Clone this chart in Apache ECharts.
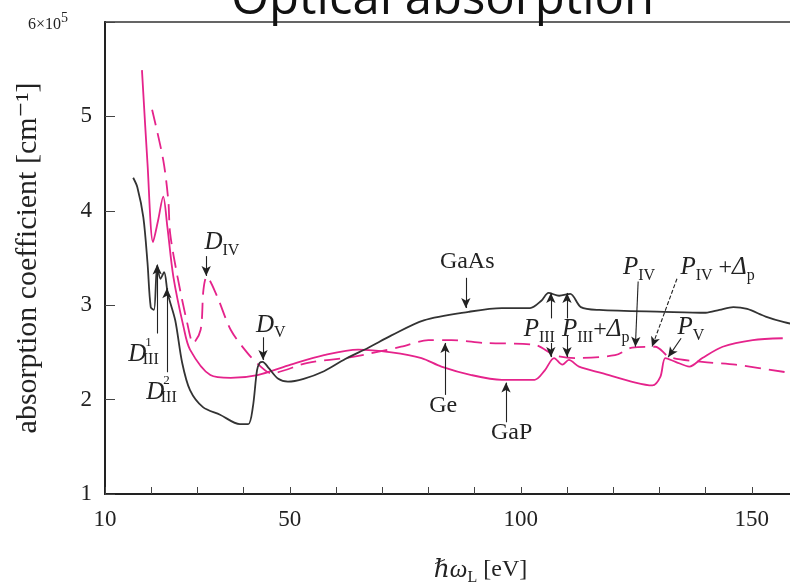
<!DOCTYPE html>
<html><head><meta charset="utf-8">
<script src="https://cdn.jsdelivr.net/npm/echarts@6/dist/echarts.min.js"></script>
<style>html,body{margin:0;padding:0;background:#fff}#c{width:790px;height:583px}</style>
</head><body><div id="c"></div>
<script>
// ---- data (photon energy in eV, absorption in units of 10^5 cm^-1) ----
var gaasE = [16.1,17,18.3,19.2,19.9,20.6,21.3,22,22.8,23.6,25.2,26.7,28.4,31.2,34.9,39.2,41,42,42.9,43.5,44.1,45.5,47.5,49.6,53,57.4,62,67,72,79,88.7,95.9,102,104.5,106,108.3,110.7,113,117,131,140,143,146,149,153,157,160];
var gaasV = [4.35,4.25,3.93,3.45,2.98,2.95,3.42,3.28,3.35,3.12,2.84,2.39,2.10,1.92,1.84,1.74,1.74,1.92,2.31,2.39,2.40,2.33,2.22,2.19,2.22,2.30,2.43,2.55,2.68,2.84,2.93,2.97,2.97,3.05,3.13,3.10,3.12,2.98,2.95,2.93,2.92,2.95,2.98,2.96,2.88,2.82,2.79];
var geE = [20.2,22.6,23.7,24.1,25.7,27.8,29.1,30.7,31.3,32,34.3,37.2,40.9,43.7,45.9,53.9,63.3,74.1,80,85,92.2,103,107.4,111.7,120.4,124.1,129.1,132.2,139.3,146.5,157.4];
var geV = [5.07,4.54,4.11,3.76,3.30,2.81,2.60,2.74,3.16,3.30,3.09,2.74,2.49,2.35,2.28,2.39,2.45,2.56,2.63,2.63,2.60,2.58,2.47,2.44,2.47,2.55,2.56,2.45,2.40,2.37,2.29];
var gapE = [18.0,19.2,20.4,21.5,22.6,23.5,24.8,27,28.4,32.8,37.2,43,50.2,57.4,64.8,72,78.5,82.8,89.3,95.9,103,105.2,107.2,109,110.4,112.6,117.6,124.8,128.5,130.2,131.3,133.5,136.5,139.3,143.7,150.2,156.7];
var gapV = [5.49,4.50,3.67,3.90,4.15,3.83,3.30,2.77,2.53,2.26,2.23,2.26,2.37,2.47,2.53,2.50,2.44,2.35,2.26,2.21,2.21,2.31,2.44,2.37,2.42,2.35,2.28,2.18,2.15,2.24,2.44,2.40,2.35,2.44,2.56,2.63,2.65];
var yTicks = [1,2,3,4,5,6];
var xTickLabels = [10,50,100,150];

// ---- annotations (data coords) ----
var labels = [
  {t:'{i|D}{s|IV}', E:35.3, v:3.66},
  {t:'{i|D}{s|V}', E:45.9, v:2.79},
  {t:'{i|D}', E:17.0, v:2.48},
  {t:'{p|1}', E:19.4, v:2.60},
  {t:'{q|III}', E:19.9, v:2.42},
  {t:'{i|D}', E:20.9, v:2.08},
  {t:'{p|2}', E:23.3, v:2.20},
  {t:'{q|III}', E:23.8, v:2.02},
  {t:'{n|GaAs}', E:88.4, v:3.46},
  {t:'{n|Ge}', E:83.2, v:1.94},
  {t:'{n|GaP}', E:98.0, v:1.65},
  {t:'{i|P}{s|III}', E:104.0, v:2.74},
  {t:'{i|P}{s|III}{n|+}{i|Δ}{s|p}', E:116.2, v:2.74},
  {t:'{i|P}{s|IV}', E:125.6, v:3.40},
  {t:'{i|P}{s|IV}{n| +}{i|Δ}{s|p}', E:142.6, v:3.40},
  {t:'{i|P}{s|V}', E:136.8, v:2.76}
];
var arrows = [
  {a:[31.9,3.52], b:[31.9,3.31]},
  {a:[44.2,2.66], b:[44.2,2.42]},
  {a:[21.3,2.70], b:[21.3,3.43]},
  {a:[23.4,2.29], b:[23.4,3.18]},
  {a:[88.1,3.29], b:[88.1,2.97]},
  {a:[83.6,2.05], b:[83.6,2.60]},
  {a:[96.8,1.76], b:[96.8,2.18]},
  {a:[106.5,2.86], b:[106.5,3.13]},
  {a:[110.0,2.86], b:[110.0,3.13]},
  {a:[106.5,2.60], b:[106.5,2.45]},
  {a:[110.0,2.68], b:[110.0,2.45]},
  {a:[125.4,3.25], b:[124.8,2.56]},
  {a:[133.8,3.28], b:[128.4,2.56], dashed:true},
  {a:[134.7,2.65], b:[131.9,2.45]}
];

function pairs(xs, ys){ return xs.map(function(x,i){return [x, ys[i]];}); }
var serif = "'Liberation Serif','DejaVu Serif',serif";
var PINK = '#e5238b';
var rich = {
  i:{fontFamily:serif, fontStyle:'italic', fontSize:25, color:'#222', lineHeight:32, verticalAlign:'middle'},
  n:{fontFamily:serif, fontSize:24, color:'#222', lineHeight:32, verticalAlign:'middle'},
  s:{fontFamily:serif, fontSize:16, color:'#222', lineHeight:17, verticalAlign:'bottom'},
  p:{fontFamily:serif, fontSize:13, color:'#222'},
  q:{fontFamily:serif, fontSize:16, color:'#222'}
};

var chart = echarts.init(document.getElementById('c'), null, {renderer:'canvas'});
chart.setOption({
  animation:false,
  backgroundColor:'#fff',
  title:{text:'Optical absorption', left:226, top:-29,
    textStyle:{fontFamily:"'Open Sans','Noto Sans',sans-serif", fontSize:49, fontWeight:'normal', color:'#111'}},
  grid:{left:105, right:-8, top:22, bottom:89, containLabel:false, outerBoundsMode:'none',
    show:true, borderColor:'#333', borderWidth:1.5},
  xAxis:{type:'value', min:10, max:160, interval:10,
    axisLine:{lineStyle:{color:'#222', width:2}},
    axisTick:{inside:true, length:7, lineStyle:{color:'#444'}},
    splitLine:{show:false},
    axisLabel:{margin:14, fontFamily:serif, fontSize:23, color:'#222', hideOverlap:false,
      formatter:function(v){ return xTickLabels.indexOf(v)>=0 ? String(v) : ''; }},
    name:'{i|ℏω}{s|L}{n| [eV]}', nameLocation:'middle', nameGap:60, nameMoveOverlap:false,
    nameTextStyle:{rich:rich, padding:[0,0,0,58]}
  },
  yAxis:{type:'value', min:1, max:6, interval:1,
    axisLine:{lineStyle:{color:'#222', width:2}},
    axisTick:{inside:true, length:10, lineStyle:{color:'#444'}},
    splitLine:{show:false},
    axisLabel:{margin:13, fontFamily:serif, fontSize:23, color:'#222',
      formatter:function(v){ return v===6 ? '{n|6×10}{u|5}' : String(v); },
      rich:{n:{fontFamily:serif, fontSize:16, color:'#222', lineHeight:22, verticalAlign:'bottom'},
            u:{fontFamily:serif, fontSize:14, color:'#222', lineHeight:22, verticalAlign:'top', padding:[0,24,0,0]}}},
    name:'absorption coefficient [cm⁻¹]', nameLocation:'middle', nameGap:62, nameRotate:90, nameMoveOverlap:false,
    nameTextStyle:{fontFamily:serif, fontSize:30, color:'#222'}
  },
  series:[
    {name:'GaAs', type:'line', data:pairs(gaasE,gaasV), smooth:0.3, symbol:'none',
      lineStyle:{color:'#333', width:1.8}, z:3},
    {name:'Ge', type:'line', data:pairs(geE,geV), smooth:0.3, symbol:'none',
      lineStyle:{color:PINK, width:1.8, type:[16,8]}, z:2},
    {name:'GaP', type:'line', data:pairs(gapE,gapV), smooth:0.3, symbol:'none',
      lineStyle:{color:PINK, width:1.8}, z:2},
    {name:'annot', type:'line', data:[], symbol:'none', z:5,
      markLine:{silent:true, animation:false, symbol:['none','arrow'], symbolSize:[7,10],
        label:{show:false},
        lineStyle:{color:'#222', width:1.1, type:'solid'},
        data:arrows.map(function(r){
          return [{coord:r.a, lineStyle:{type: r.dashed?[4,2]:'solid', color:'#222', width:1.1}}, {coord:r.b}];
        })},
      markPoint:{silent:true, animation:false, symbol:'rect', symbolSize:1,
        itemStyle:{color:'rgba(0,0,0,0)'},
        label:{show:true, position:'inside', rich:rich},
        data:labels.map(function(l){ return {coord:[l.E,l.v], label:{formatter:l.t, rich:rich}}; })}
    }
  ]
});
</script></body></html>
